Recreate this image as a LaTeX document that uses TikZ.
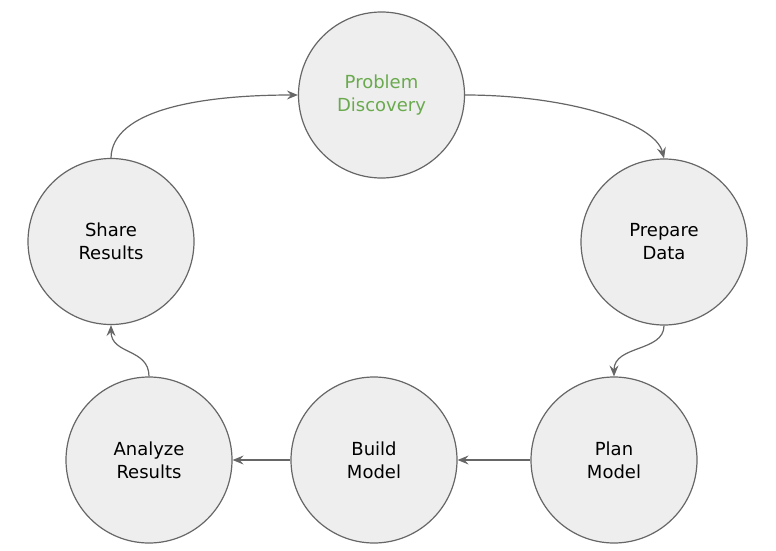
\documentclass[tikz,border=0pt]{standalone}
\usepackage{fontspec}
\setmainfont{DejaVu Sans}
\usetikzlibrary{arrows.meta}
\definecolor{linegray}{HTML}{666666}
\definecolor{fillgray}{HTML}{EEEEEE}
\definecolor{greentext}{RGB}{106,170,78}
\begin{document}
\begin{tikzpicture}[x=1pt,y=-1pt,
  stepcircle/.style={circle, draw=linegray, fill=fillgray, line width=1.2pt,
    minimum size=166pt, inner sep=0pt, align=center,
    font=\fontsize{18}{23}\selectfont},
  conn/.style={draw=linegray, line width=1.2pt,
    -{Stealth[length=11pt,width=9pt,inset=4pt]}}]
\useasboundingbox (0,0) rectangle (776,551);
\node[stepcircle, text=greentext] (pd) at (381.5,95) {Problem\\Discovery};
\node[stepcircle] (prep) at (664,242) {Prepare\\Data};
\node[stepcircle] (share) at (111,241.5) {Share\\Results};
\node[stepcircle] (plan) at (614,460) {Plan\\Model};
\node[stepcircle] (build) at (374,460) {Build\\Model};
\node[stepcircle] (anal) at (149,460) {Analyze\\Results};
\draw[conn] (pd.east) .. controls (565,95) and (655,122) .. (prep.north);
\draw[conn] (prep.south) .. controls (664,352) and (614,345) .. (plan.north);
\draw[conn] (plan.west) -- (build.east);
\draw[conn] (build.west) -- (anal.west -| anal.east);
\draw[conn] (anal.north) .. controls (149,348) and (111,355) .. (share.south);
\draw[conn] (share.north) .. controls (112,110) and (200,95) .. (pd.west);
\end{tikzpicture}
\end{document}
